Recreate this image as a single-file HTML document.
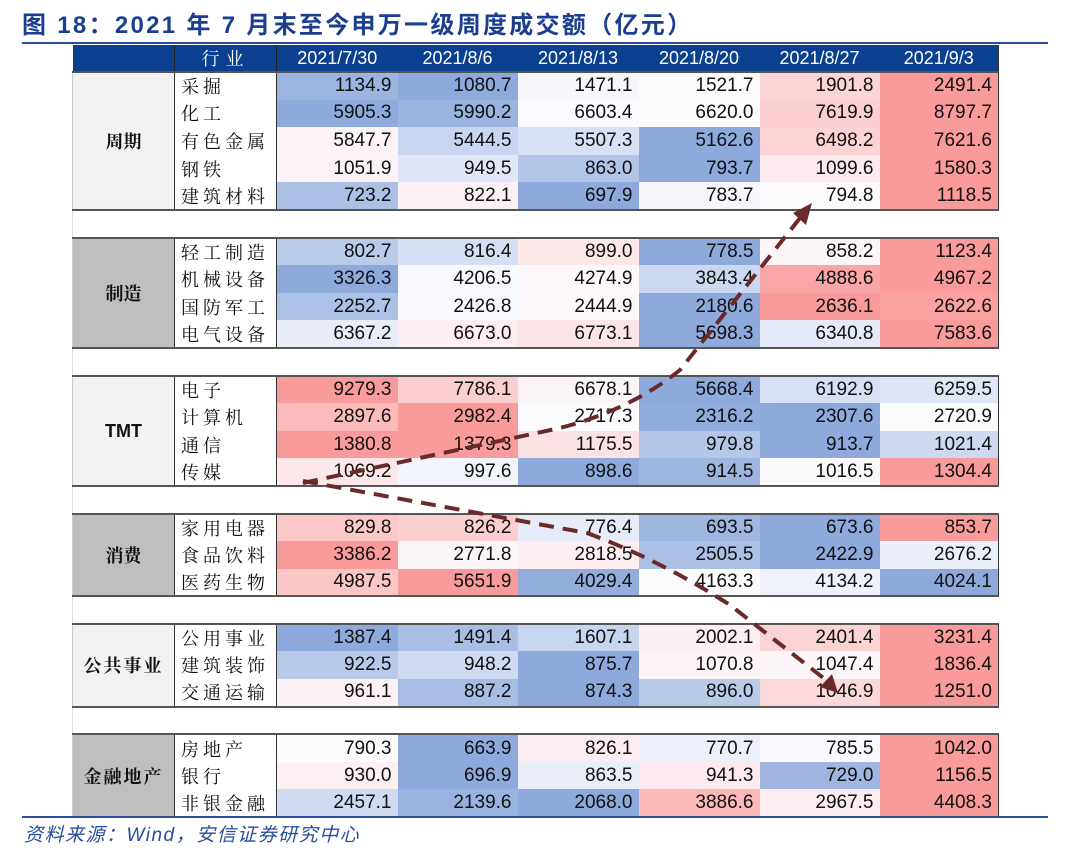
<!DOCTYPE html>
<html><head><meta charset="utf-8">
<style>
body{margin:0;background:#fff;width:1080px;height:857px;position:relative;overflow:hidden;font-family:"Liberation Sans","Noto Sans CJK SC",sans-serif;}
.title{position:absolute;left:22px;top:5px;font-size:24px;font-weight:bold;color:#1B3F8E;font-family:"Liberation Sans","Noto Sans CJK SC",sans-serif;letter-spacing:2.3px;white-space:nowrap;}
.hl{position:absolute;left:22px;width:1026px;height:2px;background:#2A4C9A;}
table{position:absolute;left:72px;top:45px;border-collapse:collapse;table-layout:fixed;}
td{padding:0;height:27.6px;line-height:20px;font-size:19px;color:#111;white-space:nowrap;overflow:hidden;box-sizing:border-box;}
tr.h td{background:#0B3F8F;color:#fff;height:27px;text-align:center;font-size:18px;}
tr.h td.ind{font-family:"Noto Serif CJK SC",serif;letter-spacing:6px;border-left:1.5px solid #222;border-right:1.5px solid #222;}
td.g{font-family:"Noto Serif CJK SC",serif;font-weight:bold;text-align:center;font-size:18px;border-right:1.5px solid #333;border-left:1px solid #ccc;}
td.n{font-family:"Noto Serif CJK SC",serif;font-size:18px;letter-spacing:4px;padding-left:6px;background:#fff;border-right:1.5px solid #333;}
td.v{text-align:right;padding-right:6px;}
tr.top td{border-top:2px solid #555;}
tr.bot td{border-bottom:2px solid #555;}
tr.gap td{background:#fff;height:27.6px;border-left:1px solid #ddd;}
td.last{border-right:1.5px solid #333;}
.src{position:absolute;left:24px;top:820px;font-size:19px;letter-spacing:1.5px;font-style:italic;color:#2A4C9A;font-family:"Liberation Sans","Noto Sans CJK SC",sans-serif;}
svg{position:absolute;left:0;top:0;}
</style></head><body>
<div class="title">图 18：2021 年 7 月末至今申万一级周度成交额（亿元）</div>
<div class="hl" style="top:42px"></div>
<table>
<colgroup><col style="width:102px"><col style="width:102px"><col style="width:121px"><col style="width:120px"><col style="width:121px"><col style="width:121px"><col style="width:120px"><col style="width:119px"></colgroup>
<tr class="h"><td></td><td class="ind">行业</td><td>2021/7/30</td><td>2021/8/6</td><td>2021/8/13</td><td>2021/8/20</td><td>2021/8/27</td><td class="last">2021/9/3</td></tr>

<tr class="d top"><td class="g" rowspan="5" style="background:#F2F2F2;border-bottom:2px solid #555">周期</td><td class="n">采掘</td><td class="v">1134.9</td><td class="v">1080.7</td><td class="v">1471.1</td><td class="v">1521.7</td><td class="v">1901.8</td><td class="v last">2491.4</td></tr>
<tr class="d"><td class="n">化工</td><td class="v">5905.3</td><td class="v">5990.2</td><td class="v">6603.4</td><td class="v">6620.0</td><td class="v">7619.9</td><td class="v last">8797.7</td></tr>
<tr class="d"><td class="n">有色金属</td><td class="v">5847.7</td><td class="v">5444.5</td><td class="v">5507.3</td><td class="v">5162.6</td><td class="v">6498.2</td><td class="v last">7621.6</td></tr>
<tr class="d"><td class="n">钢铁</td><td class="v">1051.9</td><td class="v">949.5</td><td class="v">863.0</td><td class="v">793.7</td><td class="v">1099.6</td><td class="v last">1580.3</td></tr>
<tr class="d bot"><td class="n">建筑材料</td><td class="v">723.2</td><td class="v">822.1</td><td class="v">697.9</td><td class="v">783.7</td><td class="v">794.8</td><td class="v last">1118.5</td></tr>
<tr class="gap"><td colspan="8"></td></tr>

<tr class="d top"><td class="g" rowspan="4" style="background:#BFBFBF;border-bottom:2px solid #555">制造</td><td class="n">轻工制造</td><td class="v">802.7</td><td class="v">816.4</td><td class="v">899.0</td><td class="v">778.5</td><td class="v">858.2</td><td class="v last">1123.4</td></tr>
<tr class="d"><td class="n">机械设备</td><td class="v">3326.3</td><td class="v">4206.5</td><td class="v">4274.9</td><td class="v">3843.4</td><td class="v">4888.6</td><td class="v last">4967.2</td></tr>
<tr class="d"><td class="n">国防军工</td><td class="v">2252.7</td><td class="v">2426.8</td><td class="v">2444.9</td><td class="v">2180.6</td><td class="v">2636.1</td><td class="v last">2622.6</td></tr>
<tr class="d bot"><td class="n">电气设备</td><td class="v">6367.2</td><td class="v">6673.0</td><td class="v">6773.1</td><td class="v">5698.3</td><td class="v">6340.8</td><td class="v last">7583.6</td></tr>
<tr class="gap"><td colspan="8"></td></tr>

<tr class="d top"><td class="g" rowspan="4" style="background:#F2F2F2;border-bottom:2px solid #555;font-family:'Liberation Sans',sans-serif">TMT</td><td class="n">电子</td><td class="v">9279.3</td><td class="v">7786.1</td><td class="v">6678.1</td><td class="v">5668.4</td><td class="v">6192.9</td><td class="v last">6259.5</td></tr>
<tr class="d"><td class="n">计算机</td><td class="v">2897.6</td><td class="v">2982.4</td><td class="v">2717.3</td><td class="v">2316.2</td><td class="v">2307.6</td><td class="v last">2720.9</td></tr>
<tr class="d"><td class="n">通信</td><td class="v">1380.8</td><td class="v">1379.3</td><td class="v">1175.5</td><td class="v">979.8</td><td class="v">913.7</td><td class="v last">1021.4</td></tr>
<tr class="d bot"><td class="n">传媒</td><td class="v">1069.2</td><td class="v">997.6</td><td class="v">898.6</td><td class="v">914.5</td><td class="v">1016.5</td><td class="v last">1304.4</td></tr>
<tr class="gap"><td colspan="8"></td></tr>

<tr class="d top"><td class="g" rowspan="3" style="background:#BFBFBF;border-bottom:2px solid #555">消费</td><td class="n">家用电器</td><td class="v">829.8</td><td class="v">826.2</td><td class="v">776.4</td><td class="v">693.5</td><td class="v">673.6</td><td class="v last">853.7</td></tr>
<tr class="d"><td class="n">食品饮料</td><td class="v">3386.2</td><td class="v">2771.8</td><td class="v">2818.5</td><td class="v">2505.5</td><td class="v">2422.9</td><td class="v last">2676.2</td></tr>
<tr class="d bot"><td class="n">医药生物</td><td class="v">4987.5</td><td class="v">5651.9</td><td class="v">4029.4</td><td class="v">4163.3</td><td class="v">4134.2</td><td class="v last">4024.1</td></tr>
<tr class="gap"><td colspan="8"></td></tr>

<tr class="d top"><td class="g" rowspan="3" style="background:#F2F2F2;border-bottom:2px solid #555;letter-spacing:2px">公共事业</td><td class="n">公用事业</td><td class="v">1387.4</td><td class="v">1491.4</td><td class="v">1607.1</td><td class="v">2002.1</td><td class="v">2401.4</td><td class="v last">3231.4</td></tr>
<tr class="d"><td class="n">建筑装饰</td><td class="v">922.5</td><td class="v">948.2</td><td class="v">875.7</td><td class="v">1070.8</td><td class="v">1047.4</td><td class="v last">1836.4</td></tr>
<tr class="d bot"><td class="n">交通运输</td><td class="v">961.1</td><td class="v">887.2</td><td class="v">874.3</td><td class="v">896.0</td><td class="v">1046.9</td><td class="v last">1251.0</td></tr>
<tr class="gap"><td colspan="8"></td></tr>

<tr class="d top"><td class="g" rowspan="3" style="background:#BFBFBF;border-bottom:2px solid #555;letter-spacing:2px">金融地产</td><td class="n">房地产</td><td class="v">790.3</td><td class="v">663.9</td><td class="v">826.1</td><td class="v">770.7</td><td class="v">785.5</td><td class="v last">1042.0</td></tr>
<tr class="d"><td class="n">银行</td><td class="v">930.0</td><td class="v">696.9</td><td class="v">863.5</td><td class="v">941.3</td><td class="v">729.0</td><td class="v last">1156.5</td></tr>
<tr class="d bot"><td class="n">非银金融</td><td class="v">2457.1</td><td class="v">2139.6</td><td class="v">2068.0</td><td class="v">3886.6</td><td class="v">2967.5</td><td class="v last">4408.3</td></tr>
</table>
<div class="hl" style="top:816px"></div>
<div class="src">资料来源：Wind，安信证券研究中心</div>
<svg width="1080" height="857">
<g fill="none" stroke="#6B2A2A" stroke-width="4" stroke-dasharray="15 9">
<path d="M303,483 L560,428 Q630,410 680,370 L800,218"/>
<path d="M303,481 L587,533 Q660,560 730,605 L826,680"/>
</g>
<polygon points="812,203 793,213 806,225" fill="#6B2A2A"/>
<polygon points="838,693 820,687 832,674" fill="#6B2A2A"/>
</svg>
<script>
(function(){
var B=[142,169,219],W=[252,252,255],R=[250,155,155];
function mix(a,b,t){return 'rgb('+a.map(function(x,i){return Math.round(x+(b[i]-x)*t)}).join(',')+')';}
document.querySelectorAll('tr.d').forEach(function(tr){
var cells=[].slice.call(tr.querySelectorAll('td.v'));
var v=cells.map(function(c){return parseFloat(c.textContent)});
var s=v.slice().sort(function(a,b){return a-b});
var mn=s[0],mx=s[s.length-1],md=(s[2]+s[3])/2;
cells.forEach(function(c,i){var x=v[i],col;
if(x<=md){col=mix(B,W,md>mn?(x-mn)/(md-mn):1);}else{col=mix(W,R,mx>md?(x-md)/(mx-md):0);}
c.style.background=col;});
});
})();
</script>
</body></html>
